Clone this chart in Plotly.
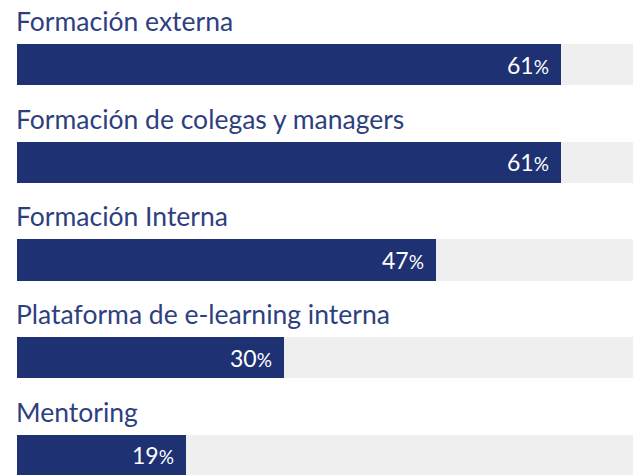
import plotly.graph_objects as go

categories = ["Formación externa", "Formación de colegas y managers", "Formación Interna",
              "Plataforma de e-learning interna", "Mentoring"]
values = [61, 61, 47, 30, 19]
track = [100, 100, 100, 100, 100]

NAVY = "#1e3173"
GRAY = "#efefef"
LABEL = "#2e3f80"
FONT = "Lato, 'Open Sans', sans-serif"

pos = list(range(len(categories)))
bw = 0.42

fig = go.Figure()
fig.add_trace(go.Bar(x=track, y=pos, orientation="h", width=bw, marker=dict(color=GRAY, line=dict(width=0)),
                     hoverinfo="skip", showlegend=False))
fig.add_trace(go.Bar(x=values, y=pos, orientation="h", width=bw, marker=dict(color=NAVY, line=dict(width=0)),
                     showlegend=False))

for i, (c, v) in enumerate(zip(categories, values)):
    fig.add_annotation(x=0, y=i - bw / 2, xref="x", yref="y", text=c, showarrow=False,
                       xanchor="left", yanchor="bottom", yshift=5, xshift=-3,
                       font=dict(family=FONT, size=26.5, color=LABEL))
    fig.add_annotation(x=v, y=i, xref="x", yref="y",
                       text=f"{v}<span style='font-size:19px'>%</span>", showarrow=False,
                       xanchor="right", yanchor="middle", xshift=-10, yshift=0,
                       font=dict(family=FONT, size=23, color="white"))

fig.update_layout(
    width=633, height=475,
    margin=dict(l=17, r=0, t=0, b=0),
    paper_bgcolor="white", plot_bgcolor="white",
    barmode="overlay", bargap=0,
    xaxis=dict(range=[0, 69.1], visible=False, fixedrange=True),
    yaxis=dict(range=[4.2, -0.66], visible=False, fixedrange=True),
)

fig.write_html("out.html", config={"displayModeBar": False},
               post_script="document.body.style.margin='0';document.body.style.overflow='hidden';")
